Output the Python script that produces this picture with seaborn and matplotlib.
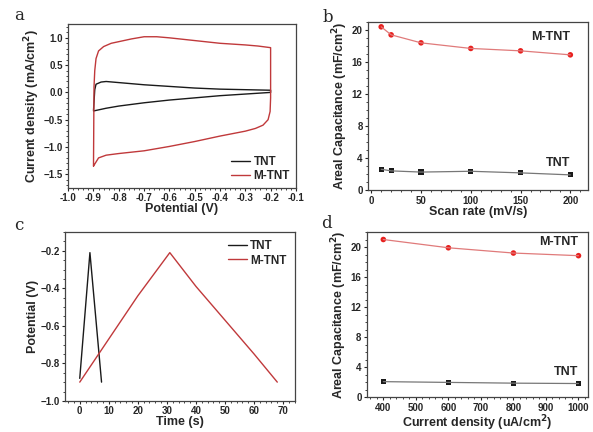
import pandas as pd
import matplotlib.pyplot as plt
import seaborn as sns

# (a) CV loops, potential (V) / current density (mA/cm2)
cv_tnt_v = [-0.90, -0.895, -0.89, -0.87, -0.85, -0.80, -0.70, -0.60, -0.50, -0.40, -0.30, -0.20,
            -0.20, -0.30, -0.40, -0.50, -0.60, -0.70, -0.80, -0.85, -0.90]
cv_tnt_i = [-0.33, 0.05, 0.15, 0.19, 0.20, 0.18, 0.14, 0.11, 0.08, 0.06, 0.05, 0.04,
            0.00, -0.03, -0.06, -0.10, -0.14, -0.19, -0.25, -0.29, -0.34]
cv_mtnt_v = [-0.90, -0.898, -0.895, -0.89, -0.88, -0.86, -0.83, -0.80, -0.75, -0.70, -0.65, -0.60,
             -0.50, -0.40, -0.30, -0.25, -0.20, -0.20, -0.202, -0.21, -0.23, -0.26, -0.30,
             -0.40, -0.50, -0.60, -0.70, -0.80, -0.85, -0.88, -0.90]
cv_mtnt_i = [-1.35, 0.10, 0.40, 0.62, 0.76, 0.84, 0.90, 0.93, 0.98, 1.02, 1.02, 1.00,
             0.95, 0.90, 0.87, 0.85, 0.82, -0.10, -0.35, -0.50, -0.60, -0.66, -0.71,
             -0.80, -0.90, -0.99, -1.07, -1.12, -1.15, -1.20, -1.35]

# (b) capacitance vs scan rate
scan_rate = [10, 20, 50, 100, 150, 200]
cap_scan_mtnt = [20.4, 19.4, 18.4, 17.7, 17.4, 16.9]
cap_scan_tnt = [2.6, 2.4, 2.25, 2.35, 2.15, 1.9]

# (c) charge/discharge curves
gcd_tnt_t = [0.0, 3.5, 7.5]
gcd_tnt_v = [-0.88, -0.21, -0.90]
gcd_mtnt_t = [0, 10, 20, 31, 40, 50, 60, 68]
gcd_mtnt_v = [-0.90, -0.67, -0.44, -0.21, -0.39, -0.57, -0.75, -0.90]

# (d) capacitance vs current density
cur_density = [400, 600, 800, 1000]
cap_cur_mtnt = [21.0, 19.9, 19.2, 18.85]
cap_cur_tnt = [2.1, 2.0, 1.9, 1.85]

RED = "#c0393b"
BLACK = "#1a1a1a"

sns.set_style("ticks")
plt.rcParams["font.family"] = ["Liberation Sans", "DejaVu Sans"]
plt.rcParams["font.weight"] = "bold"
plt.rcParams["axes.labelweight"] = "bold"
plt.rcParams["axes.edgecolor"] = "#444444"
plt.rcParams["xtick.labelsize"] = 7
plt.rcParams["ytick.labelsize"] = 7
plt.rcParams["axes.labelsize"] = 9

fig = plt.figure(figsize=(5.93, 4.32), dpi=100)
ax_a = fig.add_axes([0.115, 0.565, 0.384, 0.379])
ax_b = fig.add_axes([0.621, 0.560, 0.371, 0.389])
ax_c = fig.add_axes([0.110, 0.072, 0.387, 0.391])
ax_d = fig.add_axes([0.619, 0.080, 0.373, 0.383])


def style(ax):
    ax.minorticks_on()
    ax.tick_params(which="major", length=2.5, width=0.8, direction="out", pad=1.5)
    ax.tick_params(which="minor", length=1.5, width=0.6, direction="out")
    for s in ax.spines.values():
        s.set_linewidth(0.9)


# a
df_a1 = pd.DataFrame({"v": cv_tnt_v, "i": cv_tnt_i})
df_a2 = pd.DataFrame({"v": cv_mtnt_v, "i": cv_mtnt_i})
sns.lineplot(data=df_a1, x="v", y="i", sort=False, estimator=None, color=BLACK, lw=1.0,
             label="TNT", ax=ax_a)
sns.lineplot(data=df_a2, x="v", y="i", sort=False, estimator=None, color=RED, lw=1.0,
             label="M-TNT", ax=ax_a)
ax_a.set_xlim(-1.0, -0.1)
ax_a.set_ylim(-1.75, 1.25)
ax_a.set_xticks([-1.0, -0.9, -0.8, -0.7, -0.6, -0.5, -0.4, -0.3, -0.2, -0.1])
ax_a.set_xticklabels(["-1.0", "-0.9", "-0.8", "-0.7", "-0.6", "-0.5", "-0.4", "-0.3", "-0.2", "-0.1"])
ax_a.set_yticks([-1.5, -1.0, -0.5, 0.0, 0.5, 1.0])
ax_a.set_xlabel("Potential (V)", labelpad=0)
ax_a.set_ylabel("Current density (mA/cm$^\\mathbf{2}$)", labelpad=1)
ax_a.legend(loc="lower right", frameon=False, fontsize=8.5, handlelength=1.6,
            handletextpad=0.3, labelspacing=0.2, borderaxespad=0.1)
style(ax_a)

# b
sns.lineplot(x=scan_rate, y=cap_scan_mtnt, estimator=None, color="#e07a7a", lw=0.9, ax=ax_b)
sns.scatterplot(x=scan_rate, y=cap_scan_mtnt, color="#e8201e", s=16, edgecolor="none", ax=ax_b)
sns.lineplot(x=scan_rate, y=cap_scan_tnt, estimator=None, color="#777777", lw=0.9, ax=ax_b)
sns.scatterplot(x=scan_rate, y=cap_scan_tnt, color=BLACK, marker="s", s=14, edgecolor="none", ax=ax_b)
ax_b.set_xlim(-3, 218)
ax_b.set_ylim(0, 21)
ax_b.set_xticks([0, 50, 100, 150, 200])
ax_b.set_yticks([0, 4, 8, 12, 16, 20])
ax_b.set_xlabel("Scan rate (mV/s)", labelpad=0)
ax_b.set_ylabel("Areal Capacitance (mF/cm$^\\mathbf{2}$)", labelpad=1)
ax_b.text(200, 18.4, "M-TNT", ha="right", va="bottom", fontsize=9, fontweight="bold")
ax_b.text(200, 2.6, "TNT", ha="right", va="bottom", fontsize=9, fontweight="bold")
style(ax_b)

# c
sns.lineplot(x=gcd_tnt_t, y=gcd_tnt_v, sort=False, estimator=None, color=BLACK, lw=1.0,
             label="TNT", ax=ax_c)
sns.lineplot(x=gcd_mtnt_t, y=gcd_mtnt_v, sort=False, estimator=None, color=RED, lw=1.0,
             label="M-TNT", ax=ax_c)
ax_c.set_xlim(-5, 74)
ax_c.set_ylim(-1.0, -0.1)
ax_c.set_xticks([0, 10, 20, 30, 40, 50, 60, 70])
ax_c.set_yticks([-1.0, -0.8, -0.6, -0.4, -0.2])
ax_c.set_xlabel("Time (s)", labelpad=0)
ax_c.set_ylabel("Potential (V)", labelpad=1)
ax_c.legend(loc="upper right", frameon=False, fontsize=8.5, handlelength=1.6,
            handletextpad=0.3, labelspacing=0.2, borderaxespad=0.3)
style(ax_c)

# d
sns.lineplot(x=cur_density, y=cap_cur_mtnt, estimator=None, color="#e07a7a", lw=0.9, ax=ax_d)
sns.scatterplot(x=cur_density, y=cap_cur_mtnt, color="#e8201e", s=16, edgecolor="none", ax=ax_d)
sns.lineplot(x=cur_density, y=cap_cur_tnt, estimator=None, color="#777777", lw=0.9, ax=ax_d)
sns.scatterplot(x=cur_density, y=cap_cur_tnt, color=BLACK, marker="s", s=14, edgecolor="none", ax=ax_d)
ax_d.set_xlim(350, 1030)
ax_d.set_ylim(0, 22)
ax_d.set_xticks([400, 500, 600, 700, 800, 900, 1000])
ax_d.set_yticks([0, 4, 8, 12, 16, 20])
ax_d.set_xlabel("Current density (uA/cm$^\\mathbf{2}$)", labelpad=0)
ax_d.set_ylabel("Areal Capacitance (mF/cm$^\\mathbf{2}$)", labelpad=1)
ax_d.text(1000, 19.9, "M-TNT", ha="right", va="bottom", fontsize=9, fontweight="bold")
ax_d.text(1000, 2.6, "TNT", ha="right", va="bottom", fontsize=9, fontweight="bold")
style(ax_d)

# panel letters
for x, y, s in [(14, 15, "a"), (323, 17, "b"), (14, 226, "c"), (321, 224, "d")]:
    fig.text(x / 593, 1 - y / 432, s, family="serif", fontsize=12, fontweight="normal",
             ha="left", va="center")

fig.savefig("out.png", dpi=100)
